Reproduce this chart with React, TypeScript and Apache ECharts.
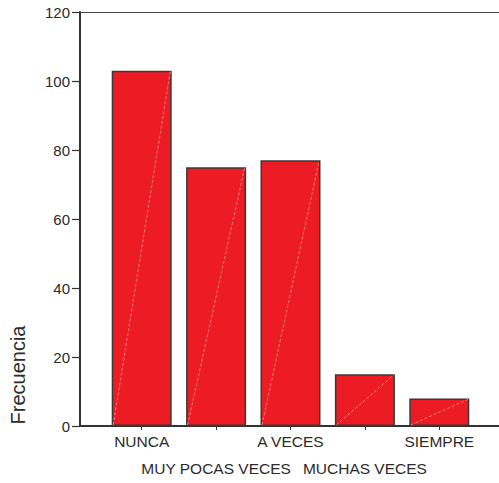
import React, { useEffect, useRef } from "react";
import * as echarts from "echarts";

const categories = ["NUNCA", "MUY POCAS VECES", "A VECES", "MUCHAS VECES", "SIEMPRE"];
const frequencies = [103, 75, 77, 15, 8];
const yTicks = { min: 0, max: 120, interval: 20 };
const yTitle = "Frecuencia";

export default function App() {
  const ref = useRef<HTMLDivElement>(null);
  useEffect(() => {
    if (!ref.current) return;
    const chart = echarts.init(ref.current, null, { renderer: "svg" });
    const font = "Liberation Sans, Arial, sans-serif";
    const textColor = "#2b2b2b";
    const BAR_W = 60;
    chart.setOption({
      animation: false,
      backgroundColor: "#ffffff",
      textStyle: { fontFamily: font },
      grid: [
        { left: 104.5, right: 22.5, top: 12, bottom: 57 },
        { left: 80, right: 0, top: 12, bottom: 57 },
      ],
      xAxis: [
        {
          type: "category",
          gridIndex: 0,
          data: categories,
          axisLine: { show: false },
          axisTick: { show: true, alignWithLabel: true, length: 4, lineStyle: { color: "#333", width: 1 } },
          axisLabel: {
            interval: 0,
            margin: 2,
            fontSize: 15.5,
            lineHeight: 27,
            color: textColor,
            fontFamily: font,
            formatter: (v: string, i: number) => (i % 2 === 1 ? "\n" + v : v),
          },
          splitLine: { show: false },
        },
        {
          type: "value",
          gridIndex: 1,
          min: 0,
          max: 1,
          position: "bottom",
          axisLine: { show: true, onZero: false, lineStyle: { color: "#333", width: 2 } },
          axisTick: { show: false },
          axisLabel: { show: false },
          splitLine: { show: false },
        },
        {
          type: "value",
          gridIndex: 1,
          min: 0,
          max: 1,
          position: "top",
          axisLine: { show: true, onZero: false, lineStyle: { color: "#444", width: 1.2 } },
          axisTick: { show: false },
          axisLabel: { show: false },
          splitLine: { show: false },
        },
      ],
      yAxis: [
        {
          type: "value",
          gridIndex: 0,
          ...yTicks,
          show: false,
          splitLine: { show: false },
        },
        {
          type: "value",
          gridIndex: 1,
          ...yTicks,
          axisLine: { show: true, onZero: false, lineStyle: { color: "#333", width: 2 } },
          axisTick: { show: true, length: 8, lineStyle: { color: "#333", width: 1.2 } },
          axisLabel: { fontSize: 15, color: textColor, margin: 10, fontFamily: font },
          splitLine: { show: false },
        },
      ],
      graphic: [
        {
          type: "text",
          x: 18,
          y: 375,
          rotation: Math.PI / 2,
          style: {
            text: yTitle,
            fontSize: 20,
            fill: textColor,
            fontFamily: font,
            align: "center",
            verticalAlign: "middle",
          },
        },
      ],
      series: [
        {
          type: "bar",
          xAxisIndex: 0,
          yAxisIndex: 0,
          data: frequencies,
          barWidth: BAR_W,
          itemStyle: { color: "#ED1C24", borderColor: "#383838", borderWidth: 1.5 },
        },
        {
          type: "custom",
          xAxisIndex: 0,
          yAxisIndex: 0,
          z: 5,
          data: frequencies.map((v, i) => [i, v]),
          renderItem: (params: any, api: any) => {
            const idx = api.value(0);
            const v = api.value(1);
            const start = api.coord([idx, 0]);
            const end = api.coord([idx, v]);
            const half = BAR_W / 2 - 1.5;
            return {
              type: "line",
              shape: { x1: start[0] - half, y1: start[1] - 1, x2: end[0] + half, y2: end[1] + 1 },
              style: { stroke: "#f79a9a", lineWidth: 0.8, lineDash: [3, 2] },
            };
          },
        },
      ],
    });
    return () => chart.dispose();
  }, []);
  return (
    <div
      ref={ref}
      style={{ position: "fixed", left: 0, top: 0, width: 499, height: 483, background: "#fff" }}
    />
  );
}
